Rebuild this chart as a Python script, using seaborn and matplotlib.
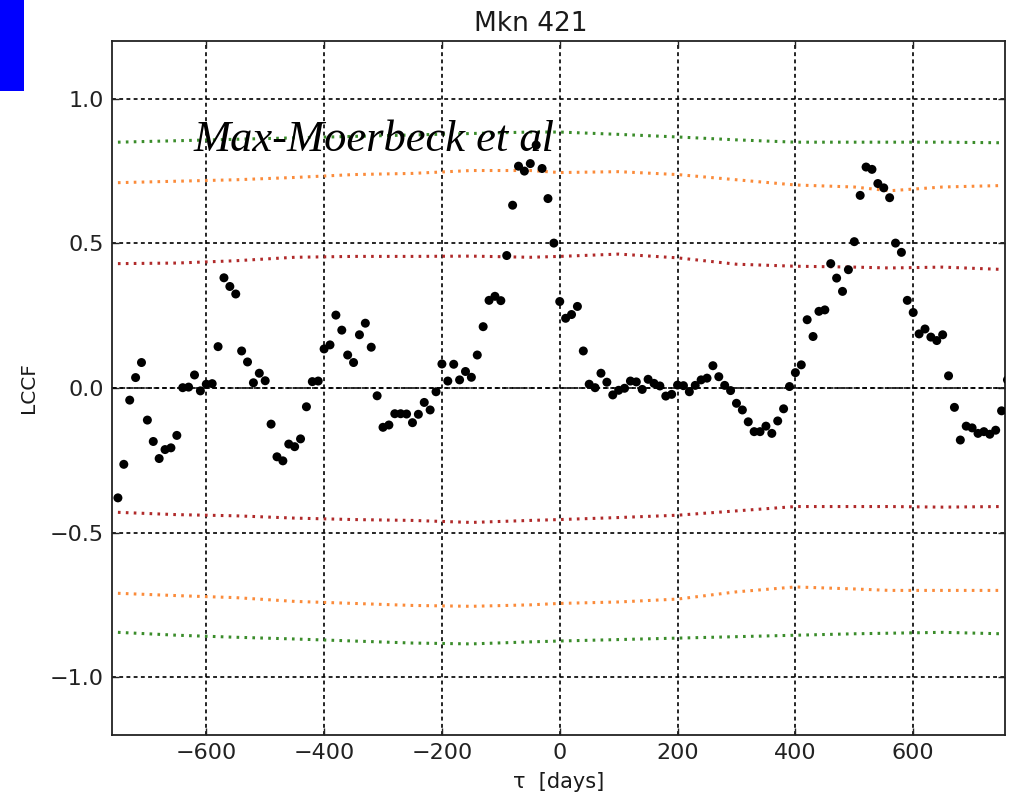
import numpy as np
import pandas as pd
import matplotlib
matplotlib.use("Agg")
import matplotlib.pyplot as plt
from matplotlib.patches import Rectangle
import seaborn as sns

# Time lags (days) of the discrete cross-correlation
lags = np.arange(-750, 761, 10)

# Local cross-correlation coefficient at each lag
lccf = [
    -0.380, -0.264, -0.042, 0.036, 0.088, -0.111, -0.185, -0.244, -0.213, -0.207,
    -0.164, 0.001, 0.003, 0.045, -0.010, 0.013, 0.015, 0.143, 0.381, 0.351,
    0.325, 0.128, 0.090, 0.018, 0.051, 0.025, -0.125, -0.238, -0.252, -0.194,
    -0.203, -0.176, -0.065, 0.022, 0.024, 0.135, 0.149, 0.252, 0.200, 0.114,
    0.088, 0.184, 0.224, 0.141, -0.027, -0.136, -0.128, -0.089, -0.089, -0.090,
    -0.120, -0.091, -0.050, -0.076, -0.013, 0.083, 0.024, 0.082, 0.028, 0.057,
    0.037, 0.114, 0.212, 0.303, 0.317, 0.302, 0.458, 0.632, 0.767, 0.750,
    0.776, 0.840, 0.759, 0.655, 0.501, 0.299, 0.241, 0.254, 0.282, 0.128,
    0.013, 0.001, 0.051, 0.020, -0.024, -0.008, -0.001, 0.024, 0.021, -0.005,
    0.030, 0.016, 0.007, -0.028, -0.022, 0.010, 0.008, -0.013, 0.009, 0.028,
    0.034, 0.077, 0.039, 0.009, -0.009, -0.053, -0.076, -0.117, -0.151, -0.151,
    -0.132, -0.157, -0.114, -0.072, 0.005, 0.053, 0.080, 0.236, 0.178, 0.265,
    0.270, 0.430, 0.380, 0.334, 0.409, 0.506, 0.666, 0.764, 0.756, 0.707,
    0.692, 0.658, 0.501, 0.469, 0.303, 0.261, 0.187, 0.204, 0.176, 0.164,
    0.184, 0.042, -0.067, -0.180, -0.132, -0.138, -0.157, -0.151, -0.160, -0.146,
    -0.079, 0.028,
]

# Significance levels from simulated light curves
band_lags = [-750, -650, -550, -450, -350, -250, -150, -50, 0, 100, 200, 300, 400, 500, 560, 650, 750]
green_hi = [0.850, 0.855, 0.860, 0.865, 0.870, 0.875, 0.880, 0.885, 0.885, 0.877, 0.868, 0.858, 0.850, 0.850, 0.850, 0.850, 0.848]
orange_hi = [0.710, 0.715, 0.720, 0.728, 0.738, 0.742, 0.752, 0.752, 0.745, 0.748, 0.738, 0.720, 0.702, 0.695, 0.682, 0.695, 0.700]
red_hi = [0.430, 0.432, 0.440, 0.452, 0.455, 0.455, 0.456, 0.452, 0.455, 0.463, 0.450, 0.428, 0.421, 0.418, 0.415, 0.418, 0.410]
red_lo = [-0.430, -0.438, -0.442, -0.450, -0.455, -0.458, -0.465, -0.458, -0.455, -0.448, -0.440, -0.425, -0.410, -0.410, -0.410, -0.412, -0.410]
orange_lo = [-0.710, -0.718, -0.725, -0.738, -0.745, -0.752, -0.755, -0.750, -0.745, -0.740, -0.730, -0.705, -0.688, -0.695, -0.700, -0.700, -0.700]
green_lo = [-0.845, -0.855, -0.862, -0.868, -0.875, -0.882, -0.885, -0.878, -0.875, -0.870, -0.865, -0.860, -0.855, -0.850, -0.848, -0.845, -0.850]

x_ticks = [-600, -400, -200, 0, 200, 400, 600]
y_ticks = [-1.0, -0.5, 0.0, 0.5, 1.0]

sns.set_style("white")
plt.rcParams["font.family"] = ["DejaVu Sans"]
plt.rcParams["lines.scale_dashes"] = False

fig = plt.figure(figsize=(10.12, 7.97), dpi=100)
ax = fig.add_axes([0.1107, 0.0778, 0.8819, 0.8708])

points = pd.DataFrame({"lag": lags, "lccf": lccf})
bands = pd.DataFrame({
    "lag": band_lags,
    "green_hi": green_hi, "orange_hi": orange_hi, "red_hi": red_hi,
    "red_lo": red_lo, "orange_lo": orange_lo, "green_lo": green_lo,
})

band_colors = {
    "green_hi": "#3a8c2a", "green_lo": "#3a8c2a",
    "orange_hi": "#fb8b3a", "orange_lo": "#fb8b3a",
    "red_hi": "#b02a2a", "red_lo": "#b02a2a",
}
for col, c in band_colors.items():
    sns.lineplot(data=bands, x="lag", y=col, ax=ax, color=c, lw=2.2,
                 linestyle=(0, (1.9, 3.8)), zorder=2)

ax.axhline(0.0, color="black", lw=1.1, linestyle=(0, (3.5, 2.5)), zorder=1)

sns.scatterplot(data=points, x="lag", y="lccf", ax=ax, color="black", s=42,
                edgecolor="none", zorder=4, clip_on=True)

ax.set_xlim(-760, 755)
ax.set_ylim(-1.2, 1.2)
ax.set_xticks(x_ticks)
ax.set_yticks(y_ticks)
ax.set_xticklabels([f"{t:d}".replace("-", "\u2212") for t in x_ticks])
ax.set_yticklabels([f"{t:.1f}".replace("-", "\u2212") for t in y_ticks])

ax.grid(True, color="black", lw=1.2, linestyle=(0, (2.8, 2.4)))
ax.set_axisbelow(True)
for s in ax.spines.values():
    s.set_color("#222222")
    s.set_linewidth(1.3)
ax.tick_params(direction="in", length=5, width=1.0, labelsize=16, pad=6,
               top=True, right=True, bottom=True, left=True, colors="#222222",
               labelcolor="#222222")

ax.text(0.469, 1.006, "Mkn 421", transform=ax.transAxes, fontsize=19,
        ha="center", va="bottom", color="#1a1a1a")
ax.set_xlabel("\u03c4  [days]", fontsize=15, labelpad=6, color="#1a1a1a")
ax.set_ylabel("LCCF", fontsize=14.5, labelpad=8, color="#1a1a1a")

ax.text(-622, 0.818, "Max-Moerbeck et al", fontsize=32, fontstyle="italic",
        family=["Liberation Serif", "DejaVu Serif"], color="black",
        ha="left", va="baseline", zorder=3)

fig.patches.append(Rectangle((0, 1 - 91 / 797), 24 / 1012, 91 / 797,
                             transform=fig.transFigure, facecolor="#0000ff",
                             edgecolor="none"))

fig.savefig("out.png", dpi=100)
